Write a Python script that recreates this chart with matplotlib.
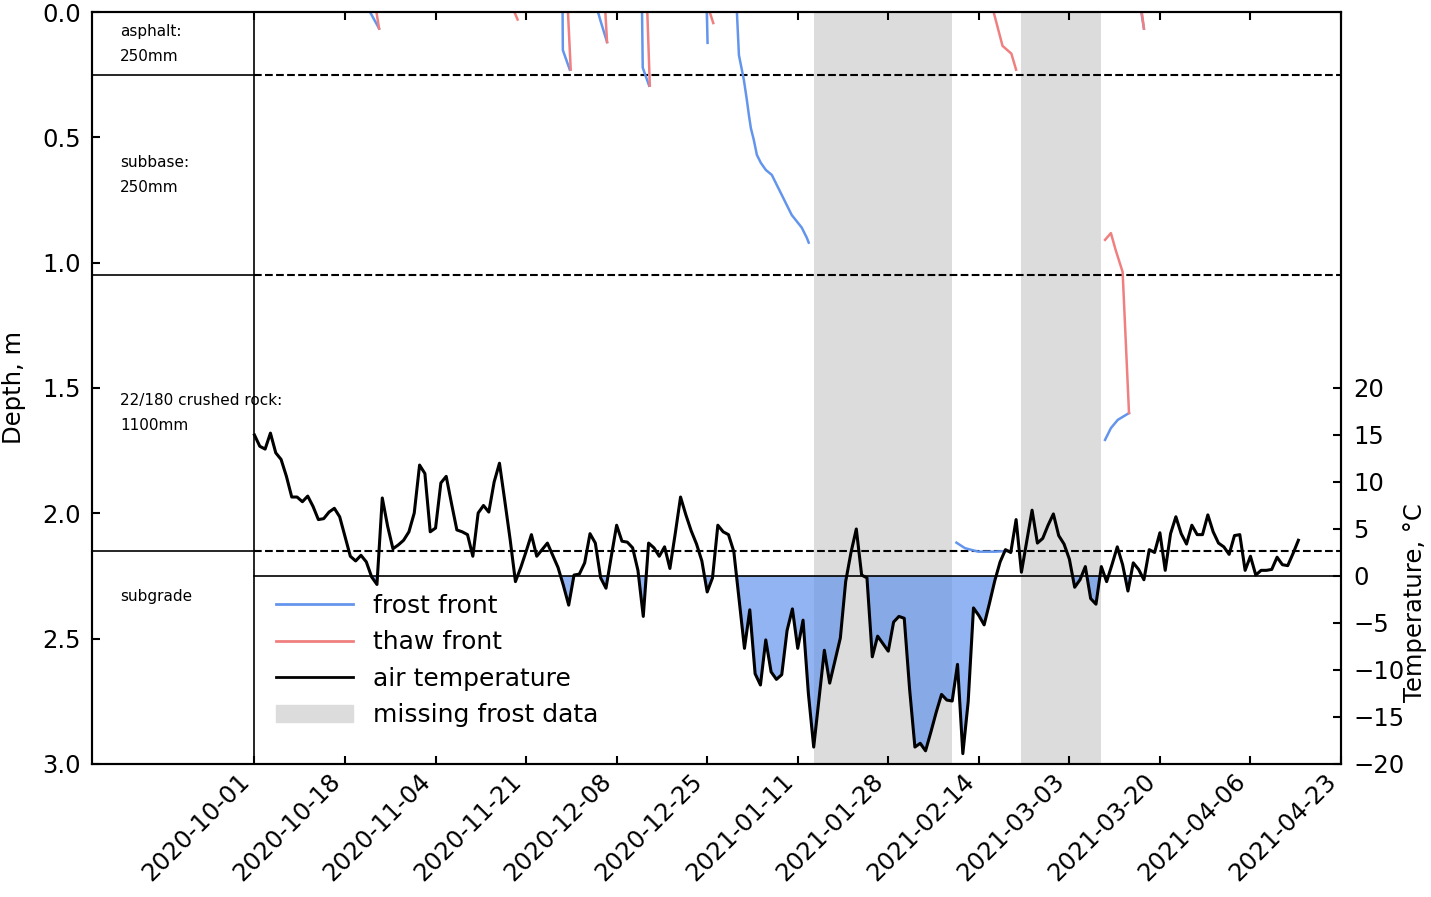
import numpy as np
import pandas as pd
import matplotlib
matplotlib.use('Agg')
import matplotlib.pyplot as plt
from matplotlib.lines import Line2D
from matplotlib.patches import Patch
from matplotlib.ticker import FormatStrFormatter

plt.rcParams['font.family'] = 'DejaVu Sans'
plt.rcParams['font.size'] = 17.5

start = pd.Timestamp('2020-10-01')
x_min = pd.Timestamp('2020-08-31 12:00')
x_max = pd.Timestamp('2021-04-23')

# daily mean air temperature (deg C), starting 2020-10-01
air_temp = [15.0, 13.8, 13.5, 15.2, 13.1, 12.4, 10.6, 8.4, 8.4, 7.9,
            8.5, 7.4, 6.0, 6.1, 6.8, 7.2, 6.3, 4.2, 2.1, 1.6,
            2.2, 1.5, -0.1, -0.9, 8.3, 5.3, 2.9, 3.3, 3.8, 4.7,
            6.7, 11.8, 10.9, 4.7, 5.1, 9.9, 10.6, 7.7, 4.9, 4.7,
            4.4, 2.1, 6.7, 7.5, 6.8, 10.0, 12.0, 8.0, 3.9, -0.6,
            0.9, 2.6, 4.4, 2.1, 2.8, 3.5, 2.2, 0.9, -1.0, -3.1,
            0.1, 0.2, 1.4, 4.5, 3.5, -0.2, -1.3, 2.1, 5.4, 3.7,
            3.6, 3.0, 0.6, -4.3, 3.5, 3.0, 2.1, 3.1, 0.8, 4.5,
            8.4, 6.5, 4.8, 3.4, 1.6, -1.7, -0.2, 5.4, 4.7, 4.4,
            2.6, -2.5, -7.7, -3.6, -10.4, -11.6, -6.8, -10.2, -11.0, -10.5,
            -5.8, -3.5, -7.7, -4.7, -12.5, -18.2, -13.0, -7.9, -11.4, -9.0,
            -6.6, -0.6, 2.5, 5.0, 0.1, -0.2, -8.6, -6.4, -7.2, -8.0,
            -4.9, -4.3, -4.5, -12.0, -18.2, -17.8, -18.6, -16.6, -14.5, -12.6,
            -13.2, -13.3, -9.4, -18.9, -13.4, -3.4, -4.2, -5.2, -2.9, -0.5,
            1.5, 2.8, 2.5, 6.0, 0.4, 3.7, 7.0, 3.5, 4.0, 5.4,
            6.6, 4.3, 3.4, 1.8, -1.2, -0.4, 1.0, -2.4, -3.0, 1.0,
            -0.6, 1.2, 3.1, 1.2, -1.6, 1.4, 0.7, -0.4, 2.8, 2.5,
            4.6, 0.6, 4.5, 6.3, 4.5, 3.4, 5.4, 4.4, 4.4, 6.5,
            4.7, 3.5, 3.1, 2.3, 4.3, 4.4, 0.6, 2.1, 0.1, 0.6,
            0.6, 0.7, 2.0, 1.2, 1.1, 2.4, 3.8]
temp_dates = pd.date_range(start, periods=len(air_temp), freq='D')

# frost / thaw fronts: (days since 2020-10-01, depth in m)
frost_fronts = [
    ([21.7, 23.4], [0.0, 0.066]),
    ([57.85, 57.9, 59.2], [0.0, 0.152, 0.23]),
    ([64.5, 65.0, 66.2], [0.0, 0.037, 0.12]),
    ([72.77, 72.9, 74.1], [0.0, 0.222, 0.294]),
    ([84.94, 85.07], [0.0, 0.123]),
    ([90.58, 90.96, 91.89, 92.45, 92.83, 93.2, 93.76, 94.33, 95.08, 96.01,
      97.14, 98.07, 99.01, 99.94, 100.88, 101.63, 102.75, 103.69, 104.06],
     [0.0, 0.172, 0.271, 0.351, 0.411, 0.463, 0.511, 0.57, 0.602, 0.63,
      0.65, 0.69, 0.73, 0.77, 0.81, 0.83, 0.86, 0.90, 0.92]),
    ([131.8, 133.4, 135.9, 139.0, 141.5], [2.117, 2.139, 2.153, 2.153, 2.15]),
    ([159.7, 160.8, 162.1, 164.2], [1.707, 1.66, 1.627, 1.6]),
    ([166.5, 167.0], [0.0, 0.066]),
]
thaw_fronts = [
    ([22.9, 23.4], [0.0, 0.066]),
    ([48.8, 49.4], [0.0, 0.03]),
    ([58.86, 59.38], [0.0, 0.23]),
    ([65.88, 66.2], [0.0, 0.12]),
    ([73.76, 74.23], [0.0, 0.294]),
    ([85.47, 86.14], [0.0, 0.044]),
    ([138.78, 140.45, 141.25, 142.11, 143.0], [0.0, 0.135, 0.15, 0.166, 0.23]),
    ([159.7, 160.8, 161.7, 163.0, 164.2], [0.909, 0.882, 0.95, 1.037, 1.6]),
    ([166.6, 167.0], [0.0, 0.066]),
]

missing_start = ['2021-01-14', '2021-02-22']
missing_end = ['2021-02-09', '2021-03-09']

layer_bounds = [0.25, 1.05, 2.15]
layer_names = ['asphalt:\n250mm', 'subbase:\n250mm', '22/180 crushed rock:\n1100mm', 'subgrade']
layer_label_depth = [0.126, 0.65, 1.6, 2.33]

xtick_dates = pd.date_range(start, x_max, freq='17D')

frost_col = 'cornflowerblue'
thaw_col = 'lightcoral'
gray_col = 'gainsboro'


def to_time(days):
    return start + pd.to_timedelta(np.array(days), unit='D')


fig, ax = plt.subplots(figsize=(14.31, 8.97), dpi=100)
fig.subplots_adjust(left=0.0643, right=0.9371, top=0.9866, bottom=0.1483)
ax2 = ax.twinx()

for s, e in zip(missing_start, missing_end):
    ax.axvspan(pd.Timestamp(s), pd.Timestamp(e), color=gray_col, lw=0, zorder=0)

for d in layer_bounds:
    ax.plot([x_min, start], [d, d], 'k-', lw=1.2)
    ax.plot([start, x_max], [d, d], 'k--', lw=1.5)
ax.axvline(start, color='k', lw=1.2)

for name, d in zip(layer_names, layer_label_depth):
    ax.text(pd.Timestamp('2020-09-05 18:00'), d, name, fontsize=11, va='center',
            ha='left', linespacing=1.85)

for days, depth in frost_fronts:
    ax.plot(to_time(days), depth, color=frost_col, lw=1.8)
for days, depth in thaw_fronts:
    ax.plot(to_time(days), depth, color=thaw_col, lw=1.8)

temp = np.array(air_temp)
ax2.fill_between(temp_dates, temp, 0, where=temp < 0, interpolate=True,
                 color=frost_col, alpha=0.7, lw=0)
ax2.plot(temp_dates, temp, color='k', lw=2.2)
ax2.plot([start, x_max], [0, 0], 'k-', lw=1.2)

ax.set_xlim(x_min, x_max)
ax.set_ylim(3, 0)
ax.set_yticks(np.arange(0, 3.01, 0.5))
ax.yaxis.set_major_formatter(FormatStrFormatter('%.1f'))
ax.set_ylabel('Depth, m')
ax.yaxis.set_label_coords(-0.053, 0.5)
ax.set_xticks(xtick_dates)
ax.set_xticklabels([d.strftime('%Y-%m-%d') for d in xtick_dates], rotation=45, ha='right')
ax.tick_params(direction='in', top=True, length=6, width=1.5)
ax.tick_params(axis='y', pad=8)

ax2.set_ylim(-20, 60)
ax2.set_yticks(range(-20, 21, 5))
ax2.tick_params(direction='in', length=6, width=1.5, pad=9)
ax2.set_ylabel('Temperature, °C')
ax2.yaxis.set_label_coords(1.05, 0.215)

for a in (ax, ax2):
    for sp in a.spines.values():
        sp.set_linewidth(1.5)

handles = [Line2D([], [], color=frost_col, lw=2),
           Line2D([], [], color=thaw_col, lw=2),
           Line2D([], [], color='k', lw=2),
           Patch(color=gray_col)]
labels = ['frost front', 'thaw front', 'air temperature', 'missing frost data']
ax2.legend(handles, labels, loc='upper left', bbox_to_anchor=(0.129, 0.256),
           frameon=False, handlelength=3.1, fontsize=18, labelspacing=0.5)

fig.savefig('out.png', dpi=100)
